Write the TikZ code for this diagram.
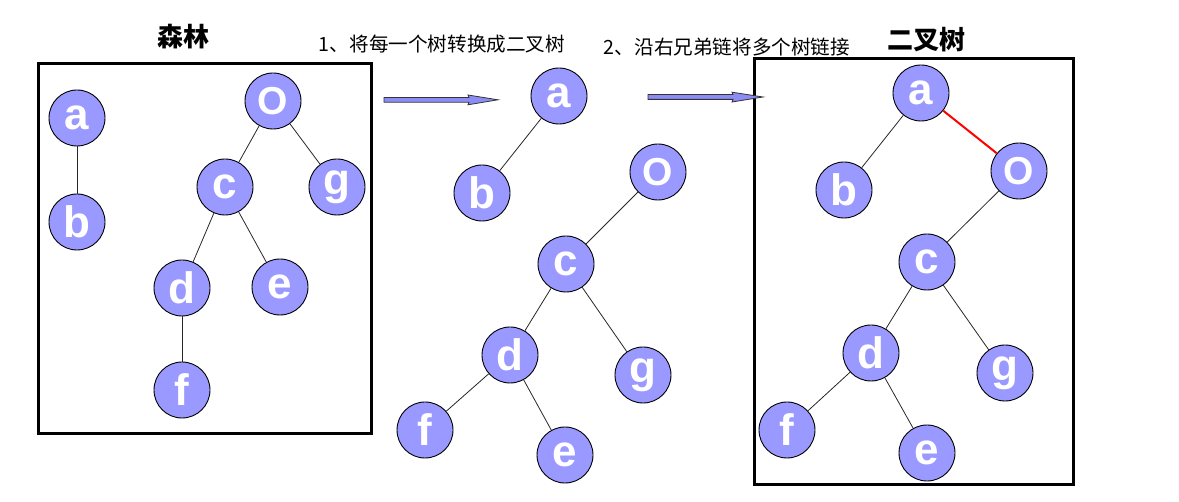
\documentclass[tikz,border=0pt]{standalone}
\usepackage{fontspec}
\setmainfont{Liberation Sans}
\newfontfamily\cjk{Noto Sans CJK SC}
\begin{document}
\begin{tikzpicture}[x=1pt,y=-1pt,
  tnode/.style={circle,draw=black,line width=0.9pt,fill=nodeblue,minimum size=56pt,inner sep=0pt,
    text=white,font=\fontsize{44}{44}\selectfont\bfseries},
  onode/.style={tnode,font=\fontsize{39}{39}\selectfont\bfseries},
  edge/.style={draw=black!85,line width=0.8pt},
  redge/.style={draw=red,line width=2pt},
  frame/.style={draw=black,line width=3pt},
  title/.style={font=\cjk\bfseries\fontsize{26}{26}\selectfont},
  caption/.style={font=\cjk\fontsize{19.6}{19.6}\selectfont},
  blockarrow/.style={fill=arrowblue,draw=black!80,line width=0.8pt}
]
\definecolor{nodeblue}{HTML}{9999FF}
\definecolor{arrowblue}{HTML}{8C8CF5}
\useasboundingbox (0,0) rectangle (1179,502);

% titles and captions
\node[title] (t1) at (183,37) {森林};
\node[title] (t3) at (926,40) {二叉树};
\node[caption] (c1) at (442,44) {1、将每一个树转换成二叉树};
\node[caption] (c2) at (727,47) {2、沿右兄弟链将多个树链接};

% frames
\draw[frame] (38,64) rectangle (371,434);
\draw[frame] (754,59) rectangle (1073,485);

% block arrows
\draw[blockarrow] (384,97.5) -- (469,97.5) -- (468,95) -- (498,99.8) -- (468,104.8) -- (469,102.2) -- (384,102.2) -- cycle;
\draw[blockarrow] (648,94.6) -- (733,94.6) -- (732,92.2) -- (763,97) -- (732,102) -- (733,99.4) -- (648,99.4) -- cycle;

% forest
\node[tnode] (fa) at (77,118) {a};
\node[tnode] (fb) at (77,222) {b};
\node[onode] (fo) at (273,101) {O};
\node[tnode] (fc) at (225,187) {c};
\node[tnode] (fg) at (337,187) {g};
\node[tnode] (fd) at (182,288) {d};
\node[tnode] (fe) at (280,287) {e};
\node[tnode] (ff) at (182,390) {f};
\draw[edge] (fa) -- (fb);
\draw[edge] (fo) -- (fc);
\draw[edge] (fo) -- (fg);
\draw[edge] (fc) -- (fd);
\draw[edge] (fc) -- (fe);
\draw[edge] (fd) -- (ff);

% converted trees
\node[tnode] (ma) at (559,96) {a};
\node[tnode] (mb) at (482,193) {b};
\node[onode] (mo) at (658,172) {O};
\node[tnode] (mc) at (566,264) {c};
\node[tnode] (md) at (510,355) {d};
\node[tnode] (mg) at (643,375) {g};
\node[tnode] (mf) at (425,430) {f};
\node[tnode] (me) at (565,455) {e};
\draw[edge] (ma) -- (mb);
\draw[edge] (mo) -- (mc);
\draw[edge] (mc) -- (md);
\draw[edge] (mc) -- (mg);
\draw[edge] (md) -- (mf);
\draw[edge] (md) -- (me);

% binary tree
\node[tnode] (ba) at (921,93) {a};
\node[tnode] (bb) at (844,190) {b};
\node[onode] (bo) at (1019,171) {O};
\node[tnode] (bc) at (927,262) {c};
\node[tnode] (bd) at (871,353) {d};
\node[tnode] (bg) at (1005,373) {g};
\node[tnode] (bf) at (787,430) {f};
\node[tnode] (be) at (927,453) {e};
\draw[edge] (ba) -- (bb);
\draw[redge] (ba) -- (bo);
\draw[edge] (bo) -- (bc);
\draw[edge] (bc) -- (bd);
\draw[edge] (bc) -- (bg);
\draw[edge] (bd) -- (bf);
\draw[edge] (bd) -- (be);
\end{tikzpicture}
\end{document}
